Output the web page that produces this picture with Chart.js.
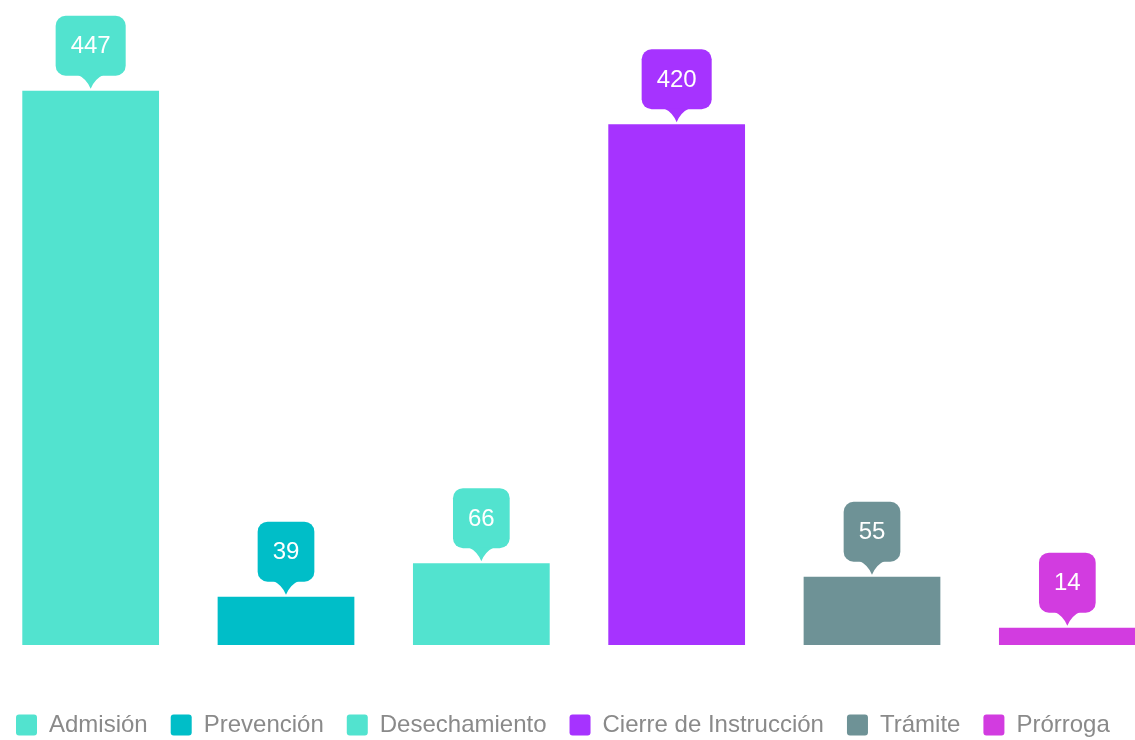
<!DOCTYPE html>
<html>
<head>
<meta charset="utf-8">
<title>Estado de expedientes</title>
<script src="https://cdn.jsdelivr.net/npm/chart.js@4/dist/chart.umd.min.js"></script>
<style>
    html, body { margin: 0; padding: 0; background: #fff; overflow: hidden; }
    #wrap { position: absolute; left: -7px; top: 0; width: 1172px; height: 747px; }
</style>
</head>
<body>
<div id="wrap"><canvas id="myChart"></canvas></div>
<script>
// data
const categories = ['Admisión', 'Prevención', 'Desechamiento', 'Cierre de Instrucción', 'Trámite', 'Prórroga'];
const values = [447, 39, 66, 420, 55, 14];
const colors = ['#52e3cf', '#00bec8', '#52e3cf', '#a633ff', '#6e9296', '#d23ce0'];

const fontFamily = '"Liberation Sans", Arial, Helvetica, sans-serif';
Chart.defaults.font.family = fontFamily;

/**
 * Draws the little speech-bubble with the value above each bar
 */
const calloutPlugin = {
    id: 'callouts',
    afterDatasetsDraw(chart) {
        let ctx = chart.ctx;
        let meta = chart.getDatasetMeta(0);
        meta.data.forEach((bar, i) => {
            let text = String(values[i]);
            ctx.save();
            ctx.font = '24px ' + fontFamily;
            let w = ctx.measureText(text).width + 30;
            let h = 60;
            let tipY = bar.y - 2;
            let boxBottom = tipY - 13;
            let boxTop = boxBottom - h;
            let x = bar.x;
            ctx.fillStyle = colors[i];
            ctx.beginPath();
            ctx.roundRect(x - w / 2, boxTop, w, h, 10);
            ctx.fill();
            // caret
            ctx.beginPath();
            ctx.moveTo(x - 13, boxBottom - 1);
            ctx.quadraticCurveTo(x - 4, boxBottom + 3, x, tipY);
            ctx.quadraticCurveTo(x + 4, boxBottom + 3, x + 13, boxBottom - 1);
            ctx.closePath();
            ctx.fill();
            ctx.fillStyle = '#ffffff';
            ctx.textAlign = 'center';
            ctx.textBaseline = 'middle';
            ctx.fillText(text, x, boxTop + h / 2 + 1);
            ctx.restore();
        });
    }
};

var ctx = document.getElementById('myChart').getContext('2d');
var myChart = new Chart(ctx, {
    type: 'bar',
    data: {
        labels: categories,
        datasets: [{
            label: 'Expedientes',
            data: values,
            backgroundColor: colors,
            borderWidth: 0,
            barPercentage: 0.7,
            categoryPercentage: 1.0
        }]
    },
    options: {
        responsive: true,
        maintainAspectRatio: false,
        animation: false,
        events: [],
        layout: {
            padding: { top: 25, bottom: 0, left: 0, right: 0 }
        },
        scales: {
            x: {
                display: true,
                offset: true,
                grid: { display: false },
                border: { display: false },
                ticks: { display: false },
                // empty strip between the bars and the legend
                afterFit: function (scale) { scale.height = 45; }
            },
            y: { display: false, min: 0, max: 500 }
        },
        plugins: {
            tooltip: { enabled: false },
            legend: {
                position: 'bottom',
                align: 'start',
                onClick: null,
                labels: {
                    boxWidth: 21,
                    boxHeight: 21,
                    padding: 23,
                    color: '#8a8a8a',
                    useBorderRadius: true,
                    borderRadius: 3,
                    font: { size: 24, family: fontFamily },
                    generateLabels: function (chart) {
                        return categories.map((name, i) => ({
                            text: name,
                            fillStyle: colors[i],
                            strokeStyle: colors[i],
                            fontColor: '#8a8a8a',
                            lineWidth: 0,
                            hidden: false,
                            index: i,
                            borderRadius: 3
                        }));
                    }
                }
            }
        }
    },
    plugins: [calloutPlugin]
});
</script>
</body>
</html>
